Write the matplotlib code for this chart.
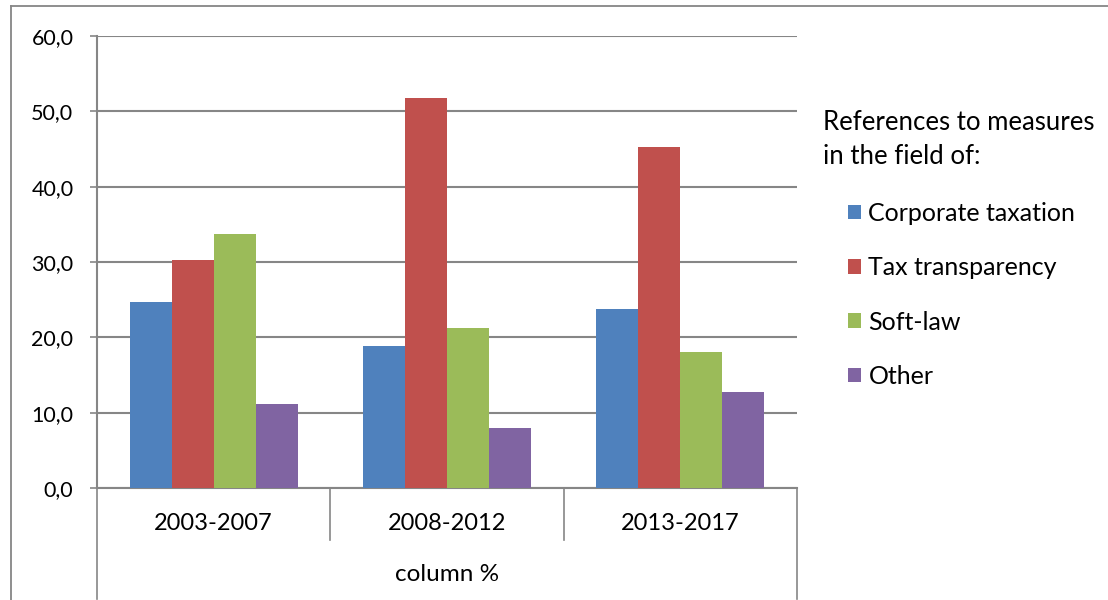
import matplotlib
matplotlib.use('Agg')
import matplotlib.pyplot as plt
import numpy as np
from matplotlib.lines import Line2D

# ── data ────────────────────────────────────────────────────────────────────
periods = ['2003-2007', '2008-2012', '2013-2017']
series_names = ['Corporate taxation', 'Tax transparency', 'Soft-law', 'Other']
corporate = [24.7, 18.8, 23.7]
transparency = [30.2, 51.8, 45.3]
soft_law = [33.7, 21.3, 18.1]
other = [11.2, 7.9, 12.7]
y_ticks = [0, 10, 20, 30, 40, 50, 60]

COLORS = ['#4F81BD', '#C0504D', '#9BBB59', '#8064A2']
GRID = '#868686'

plt.rcParams['font.family'] = ['Lato', 'DejaVu Sans']

fig = plt.figure(figsize=(11.08, 6.0), dpi=100)
ax = fig.add_axes([97 / 1108, 1 - 488 / 600, 700 / 1108, 452 / 600])

x = np.arange(len(periods))
width = 0.18
values = [corporate, transparency, soft_law, other]
bars = []
for i, (vals, col, name) in enumerate(zip(values, COLORS, series_names)):
    b = ax.bar(x + (i - 1.5) * width, vals, width, color=col, label=name,
               zorder=3, edgecolor='none')
    bars.append(b)

ax.set_xlim(-0.5, 2.5)
ax.set_ylim(0, 60)
ax.set_yticks(y_ticks)
ax.set_yticklabels([f'{v:.1f}'.replace('.', ',') for v in y_ticks], fontsize=15.5)
ax.tick_params(axis='y', length=5, width=1.2, color=GRID, pad=12)
ax.set_xticks([])
ax.grid(True, axis='y', color=GRID, linewidth=1.5, zorder=0)

for s in ['top', 'right']:
    ax.spines[s].set_visible(False)
ax.spines['left'].set_color(GRID)
ax.spines['left'].set_linewidth(1.5)
ax.spines['bottom'].set_color(GRID)
ax.spines['bottom'].set_linewidth(1.5)

# two-level category axis: periods, then the "column %" group
for i, p in enumerate(periods):
    ax.text(i, -4.7, p, ha='center', va='center', fontsize=17, clip_on=False)
for xv in [0.5, 1.5]:
    ax.plot([xv, xv], [0, -6.9], color=GRID, lw=1.2, clip_on=False)
for xv in [-0.5, 2.5]:
    ax.plot([xv, xv], [0, -14.7], color=GRID, lw=1.2, clip_on=False)
ax.text(1, -11.5, 'column %', ha='center', va='center', fontsize=17.5,
        clip_on=False)

# legend with its own title on the right
fig.text(823 / 1108, 1 - 139 / 600, 'References to measures\nin the field of:',
         ha='left', va='center', fontsize=18.5, linespacing=1.45)
fig.legend(handles=bars, labels=series_names, loc='upper left',
           bbox_to_anchor=(838 / 1108, 1 - 192 / 600), frameon=False,
           fontsize=18, handlelength=0.52, handleheight=0.52,
           handletextpad=0.3, labelspacing=1.25, borderaxespad=0)

# outer chart frame (left and top edges fall inside the image)
fig.add_artist(Line2D([11 / 1108, 11 / 1108], [0, 1 - 6 / 600],
                      transform=fig.transFigure, color=GRID, lw=1.3))
fig.add_artist(Line2D([11 / 1108, 1], [1 - 6 / 600, 1 - 6 / 600],
                      transform=fig.transFigure, color=GRID, lw=1.3))

fig.savefig('out.png', dpi=100)
